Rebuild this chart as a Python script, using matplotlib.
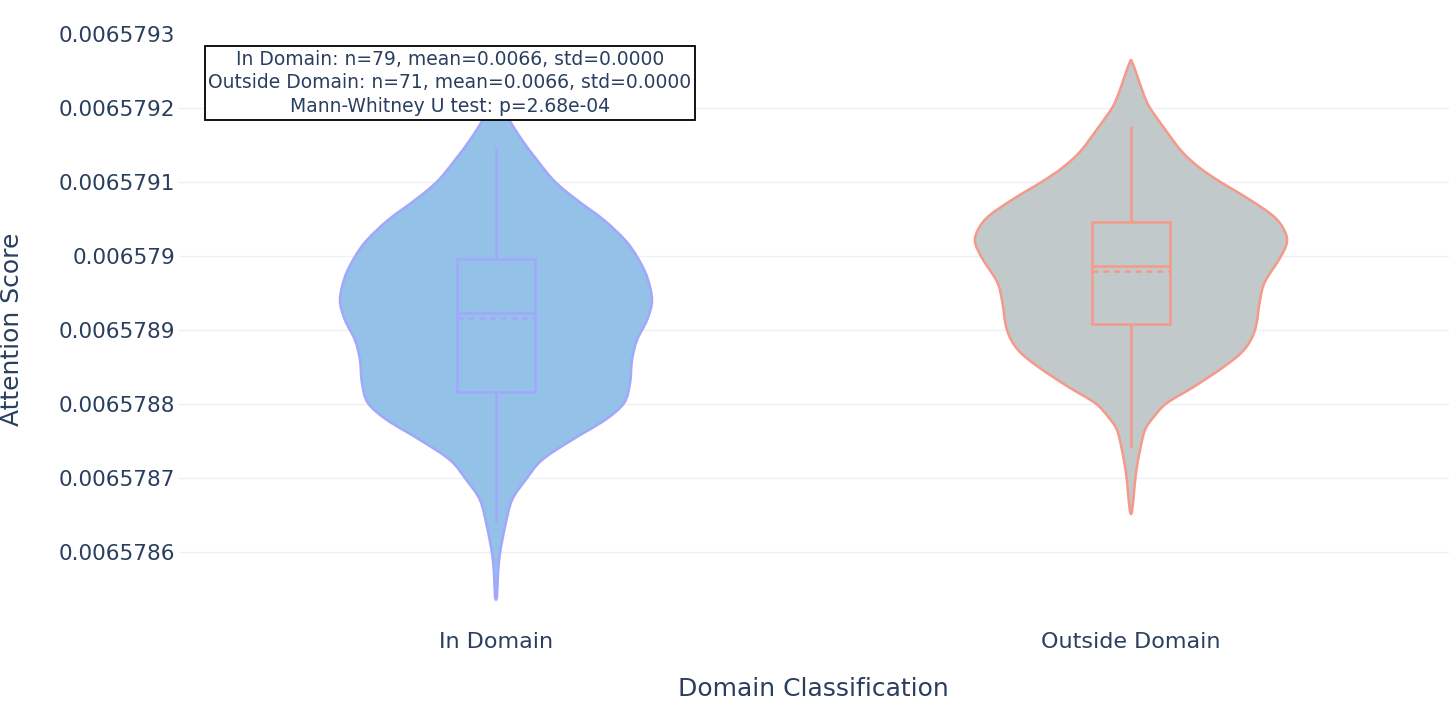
import numpy as np
import matplotlib
matplotlib.use("Agg")
import matplotlib.pyplot as plt
from matplotlib.patches import Rectangle, PathPatch
from matplotlib.path import Path

# categories
categories = ["In Domain", "Outside Domain"]

# violin outlines: score levels and relative density (max = 1)
in_y = [0.006579215, 0.0065792, 0.0065791815, 0.0065791568, 0.0065791297,
        0.0065791004, 0.0065790757, 0.0065790486, 0.0065790216, 0.0065789991,
        0.006578972, 0.0065789405, 0.0065789135, 0.0065788865, 0.0065788595,
        0.0065788284, 0.0065788014, 0.0065787784, 0.0065787514, 0.0065787243,
        0.0065786973, 0.0065786703, 0.0065786342, 0.0065785986, 0.0065785716,
        0.0065785396]
in_density = [0.01, 0.05, 0.092, 0.167, 0.263,
              0.378, 0.519, 0.692, 0.827, 0.904,
              0.968, 1.0, 0.968, 0.904, 0.872,
              0.859, 0.821, 0.699, 0.487, 0.295,
              0.19, 0.103, 0.058, 0.026, 0.013,
              0.006]

out_y = [0.0065792626, 0.0065792446, 0.0065792176, 0.0065792, 0.006579173,
         0.0065791409, 0.0065791189, 0.0065791004, 0.0065790784, 0.0065790554,
         0.0065790378, 0.0065790193, 0.0065789973, 0.0065789653, 0.0065789405,
         0.0065789, 0.006578873, 0.0065788504, 0.0065788234, 0.0065788014,
         0.0065787828, 0.0065787649, 0.0065787378, 0.0065787068, 0.0065786797,
         0.0065786545]
out_density = [0.006, 0.038, 0.083, 0.122, 0.212,
               0.327, 0.442, 0.571, 0.744, 0.904,
               0.975, 1.0, 0.955, 0.859, 0.827,
               0.795, 0.724, 0.596, 0.404, 0.231,
               0.147, 0.09, 0.058, 0.032, 0.019,
               0.006]

# box statistics: lower whisker, q1, median, mean, q3, upper whisker
in_box = [0.0065786396, 0.0065788158, 0.0065789234, 0.0065789158, 0.0065789959, 0.0065791464]
out_box = [0.0065787423, 0.0065789077, 0.0065789865, 0.0065789801, 0.0065790455, 0.0065791757]

y_ticks = [0.0065786, 0.0065787, 0.0065788, 0.0065789, 0.006579,
           0.0065791, 0.0065792, 0.0065793]

stats_text = ("In Domain: n=79, mean=0.0066, std=0.0000\n"
              "Outside Domain: n=71, mean=0.0066, std=0.0000\n"
              "Mann-Whitney U test: p=2.68e-04")

TEXT = "#2a3f5f"
fills = ["#93c1e8", "#c1c9cb"]
lines = ["#a1a8fc", "#f59989"]
violin_half = 0.2457
box_half = 0.0614


def smooth_outline(pts):
    # closed Catmull-Rom outline drawn as cubic Bezier segments
    n = len(pts)
    verts = [pts[0]]
    codes = [Path.MOVETO]
    for k in range(n):
        p0, p1, p2, p3 = pts[k - 1], pts[k], pts[(k + 1) % n], pts[(k + 2) % n]
        verts += [p1 + (p2 - p0) / 6, p2 - (p3 - p1) / 6, p2]
        codes += [Path.CURVE4] * 3
    verts.append(pts[0])
    codes.append(Path.CLOSEPOLY)
    return Path(np.array(verts), codes)


W, H = 1456, 717
fig = plt.figure(figsize=(W / 100, H / 100), dpi=100)
ax = fig.add_axes([178.5 / W, 1 - 624 / H, 1270 / W, 590 / H])

ax.set_xlim(-0.5, 1.5)
ax.set_ylim(0.0065785027, 0.0065793)

violins = [(in_y, in_density, in_box), (out_y, out_density, out_box)]
for i, (ys, dens, box) in enumerate(violins):
    ys = np.array(ys)
    d = np.array(dens) * violin_half
    right = np.column_stack([i + d, ys])
    left = np.column_stack([i - d, ys])[::-1]
    pts = np.vstack([right, left])
    ax.add_patch(PathPatch(smooth_outline(pts), facecolor=fills[i], edgecolor=lines[i],
                           linewidth=1.8, zorder=2))
    lo, q1, med, mean, q3, hi = box
    ax.add_patch(Rectangle((i - box_half, q1), 2 * box_half, q3 - q1, fill=False,
                           edgecolor=lines[i], linewidth=1.8, zorder=3))
    ax.plot([i, i], [q3, hi], color=lines[i], lw=1.8, zorder=3, solid_capstyle="butt")
    ax.plot([i, i], [lo, q1], color=lines[i], lw=1.8, zorder=3, solid_capstyle="butt")
    ax.plot([i - box_half, i + box_half], [med, med], color=lines[i], lw=1.8, zorder=3)
    ax.plot([i - box_half, i + box_half], [mean, mean], color=lines[i], lw=1.8,
            linestyle=(0, (2.5, 1.8)), zorder=3)

ax.set_xticks(range(len(categories)))
ax.set_xticklabels(categories)
ax.set_yticks(y_ticks)
ax.set_yticklabels([f"{v:.7f}".rstrip("0") for v in y_ticks])
ax.tick_params(axis="y", length=0, pad=2.5, labelsize=15.6, labelcolor=TEXT)
ax.tick_params(axis="x", length=0, pad=6, labelsize=16, labelcolor=TEXT)
ax.grid(axis="y", color="#ebf0f8", linewidth=1.0, zorder=0)
ax.set_axisbelow(True)
ax.get_ygridlines()[-1].set_visible(False)
for s in ax.spines.values():
    s.set_visible(False)

fig.text(12 / W, 1 - 329 / H, "Attention Score", rotation=90, ha="center",
         va="center", fontsize=18, color=TEXT)
fig.text(813.5 / W, 1 - 689 / H, "Domain Classification", ha="center",
         va="center", fontsize=18, color=TEXT)

fig.text(450 / W, 1 - 83 / H, stats_text, ha="center", va="center",
         multialignment="center", fontsize=13.5, color=TEXT, linespacing=1.3,
         bbox=dict(boxstyle="square,pad=0.2", facecolor="white",
                   edgecolor="black", linewidth=1.3), zorder=10)

fig.savefig("out.png", dpi=100, facecolor="white")
